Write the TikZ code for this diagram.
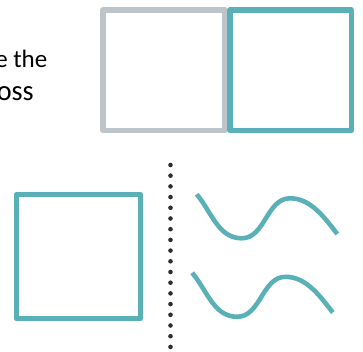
\documentclass[tikz,border=0pt]{standalone}
\usepackage{fontspec}
\setmainfont{Carlito}
\usepackage{graphicx}
\definecolor{tealc}{RGB}{90,176,183}
\definecolor{grayc}{RGB}{190,197,202}
\definecolor{dotc}{RGB}{45,45,48}
\tikzset{
  sq/.style={line width=5.4pt, line join=round},
  wave/.style={draw=tealc, line width=4.6pt, line cap=butt},
  dotmark/.style={circle, fill=dotc, inner sep=0pt, minimum size=4.6pt},
  lbl/.style={inner sep=0pt, font=\fontsize{25}{29}\selectfont, text=black}
}
\begin{document}
\begin{tikzpicture}[x=1pt,y=1pt]
\useasboundingbox (0,0) rectangle (363,352);
% text (clipped at the left edge)
\node[lbl, anchor=base east] (t1) at (47.5,284.7) {e the};
\node[lbl, anchor=base east] (t2) at (34,251.5) {\scalebox{1.13}[1.15]{oss}};
% top squares
\draw[sq, draw=grayc] (103,221.5) rectangle (225,342);
\draw[sq, draw=tealc] (230,221.5) rectangle (351.5,342);
% bottom square
\draw[sq, draw=tealc] (16.3,33.3) rectangle (140.5,157.5);
% dotted separator
\foreach \i in {0,...,17} {
  \node[dotmark] (d\i) at (170.5,{187-\i*10.7}) {};
}
% waves
\foreach \dx/\dy in {0/0, -4.5/-78.5} {
  \begin{scope}[shift={(\dx,\dy)}]
    \draw[wave] (196.7,157.7) to[out=-50,in=180,looseness=0.95] (241.7,113.7)
      to[out=0,in=180,looseness=0.95] (290,153.7)
      to[out=0,in=128,looseness=0.9] (337.3,118);
  \end{scope}
}
\end{tikzpicture}
\end{document}
